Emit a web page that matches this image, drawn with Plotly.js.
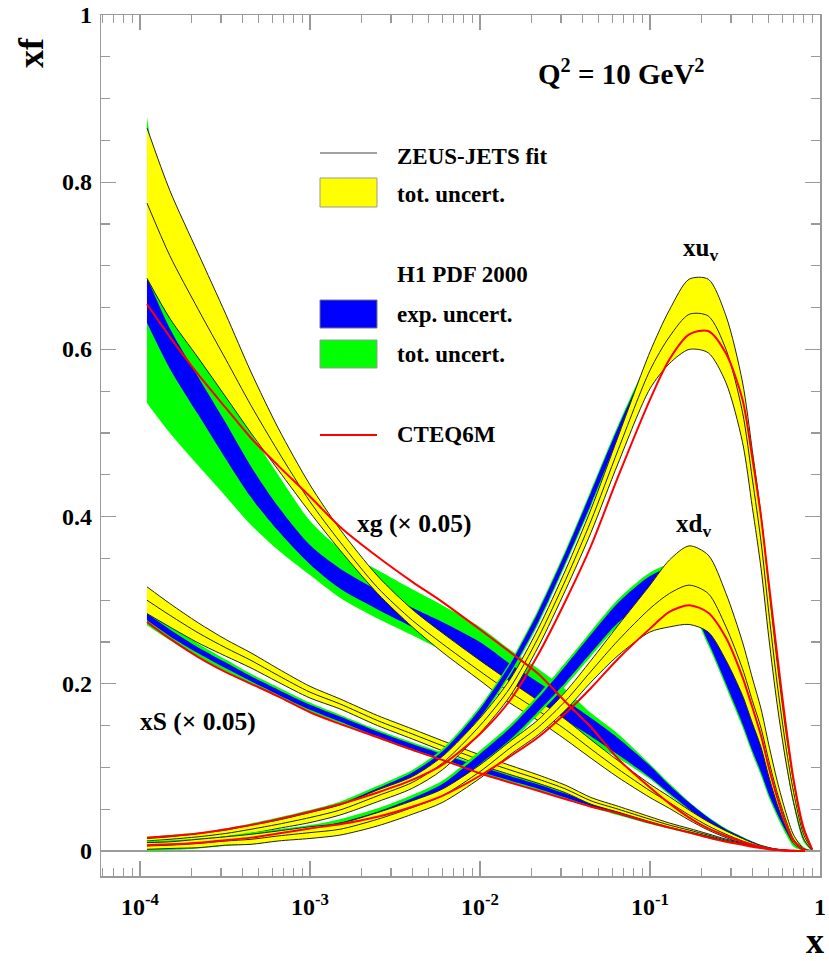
<!DOCTYPE html>
<html>
<head>
<meta charset="utf-8">
<script src="https://cdn.plot.ly/plotly-3.0.1.min.js"></script>
<style>html,body{margin:0;padding:0;background:#fff;}#chart{width:829px;height:961px;}</style>
</head>
<body>
<div id="chart"></div>
<script>
// ---------------- data ----------------
const xGrid = [1.1e-4,1.5e-4,2.2e-4,3.2e-4,4.5e-4,6.5e-4,1e-3,1.5e-3,2.5e-3,4e-3,6e-3,1e-2,1.5e-2,2.2e-2,3.2e-2,4.5e-2,6.5e-2,0.1,0.13,0.17,0.22,0.28,0.35,0.4,0.45,0.5,0.56,0.63,0.7,0.8,0.9];

// xg (x 0.05)
const xgZeusC  = [.775,.712,.648,.588,.533,.478,.418,.370,.315,.276,.248,.215,.190,.168,.145,.122,.098,.072,.058,.043,.030,.020,.012,.008,.005,.003,.0015,.0006,.0002,0,0];
const xgZeusUp = [.865,.790,.715,.642,.573,.506,.438,.385,.329,.289,.261,.228,.203,.180,.157,.133,.108,.080,.065,.049,.035,.024,.015,.010,.0065,.004,.002,.0009,.0003,0,0];
const xgZeusLo = [.685,.637,.590,.543,.500,.456,.405,.360,.308,.268,.238,.204,.177,.156,.133,.111,.088,.064,.051,.037,.025,.016,.009,.006,.0035,.002,.001,.0003,.0001,0,0];
const xgH1ExpUp = [.686,.625,.567,.512,.460,.412,.366,.338,.312,.291,.274,.250,.224,.202,.180,.159,.135,.102,.079,.058,.040,.026,.0165,.011,.007,.0045,.0023,.001,.0004,0,0];
const xgH1ExpLo = [.632,.577,.522,.469,.423,.383,.343,.314,.289,.268,.250,.226,.200,.178,.156,.137,.115,.088,.069,.050,.034,.022,.0135,.009,.006,.0035,.0017,.0006,.0002,0,0];
const xgH1TotUp = [.878,.720,.620,.550,.500,.450,.395,.362,.336,.313,.294,.268,.241,.218,.193,.165,.140,.104,.081,.059,.041,.027,.017,.0115,.0075,.0047,.0025,.001,.0004,0,0];
const xgH1TotLo = [.536,.500,.461,.424,.390,.360,.330,.303,.278,.258,.240,.216,.190,.168,.148,.130,.111,.086,.067,.049,.033,.021,.013,.0085,.0055,.0033,.0015,.0005,.0001,0,0];
const xgCteq    = [.654,.615,.570,.530,.494,.461,.424,.388,.352,.322,.298,.265,.238,.212,.178,.148,.110,.076,.057,.040,.027,.018,.011,.0075,.005,.003,.0015,.0006,.0002,0,0];

// xS (x 0.05)
const xsZeusC  = [.300,.282,.261,.243,.228,.210,.190,.176,.156,.140,.126,.109,.097,.086,.074,.060,.050,.038,.031,.025,.019,.013,.009,.0065,.0045,.003,.0018,.0009,.0004,.0001,0];
const xsZeusUp = [.316,.296,.273,.253,.237,.218,.197,.182,.162,.146,.132,.115,.1025,.091,.0785,.064,.0535,.041,.0335,.027,.0205,.0142,.010,.0073,.0051,.0035,.0022,.0011,.0005,.0001,0];
const xsZeusLo = [.284,.268,.249,.233,.219,.202,.183,.170,.150,.134,.120,.103,.0915,.081,.0695,.056,.0465,.035,.0285,.023,.0175,.0118,.008,.0057,.0039,.0025,.0014,.0007,.0003,.0001,0];
const xsH1ExpUp = [.284,.265,.2435,.2255,.209,.193,.175,.161,.143,.128,.116,.101,.0898,.0796,.0684,.0582,.048,.0368,.0305,.0242,.018,.0128,.0091,.0065,.0047,.0031,.0019,.0009,.0003,.0001,0];
const xsH1ExpLo = [.276,.257,.2365,.2185,.203,.187,.169,.155,.137,.122,.110,.095,.0842,.0744,.0636,.0538,.044,.0332,.0275,.0218,.016,.0112,.0079,.0055,.0039,.0025,.0015,.0007,.0003,.0001,0];
const xsH1TotUp = [.290,.270,.248,.229,.212,.196,.1775,.163,.145,.130,.1178,.1026,.0914,.0812,.070,.0596,.0492,.0378,.0314,.025,.0186,.0132,.0094,.0067,.0048,.0032,.002,.001,.0004,.0001,0];
const xsH1TotLo = [.270,.252,.232,.215,.200,.184,.1665,.153,.135,.120,.1082,.0934,.0826,.0728,.062,.0524,.0428,.0322,.0266,.021,.0154,.0108,.0076,.0053,.0038,.0024,.0014,.0006,.0002,.0001,0];
const xsCteq    = [.274,.254,.232,.214,.200,.185,.166,.152,.136,.121,.109,.093,.082,.072,.062,.053,.045,.034,.028,.022,.016,.011,.0075,.005,.0035,.0022,.0012,.0005,.0002,0,0];

// xu_v
const xuZeusC  = [.012,.014,.017,.021,.026,.032,.040,.049,.066,.082,.105,.150,.195,.255,.325,.395,.480,.575,.615,.642,.640,.600,.525,.445,.370,.285,.200,.125,.070,.020,.001];
const xuZeusUp = [.015,.017,.021,.025,.031,.037,.046,.055,.073,.089,.113,.159,.205,.266,.337,.409,.496,.597,.647,.684,.684,.640,.561,.479,.402,.315,.225,.143,.082,.025,.002];
const xuZeusLo = [.009,.011,.013,.017,.021,.027,.034,.043,.059,.075,.097,.141,.185,.244,.313,.381,.464,.553,.583,.600,.596,.560,.489,.411,.338,.255,.175,.107,.058,.015,0];
const xuH1ExpUp = [.014,.016,.019,.024,.030,.037,.046,.056,.075,.094,.119,.170,.223,.286,.358,.429,.507,.588,.624,.648,.645,.600,.520,.440,.365,.279,.196,.122,.067,.018,.001];
const xuH1ExpLo = [.010,.012,.015,.020,.024,.031,.040,.050,.067,.086,.111,.160,.213,.274,.346,.415,.493,.572,.606,.628,.625,.580,.500,.420,.345,.261,.180,.108,.057,.014,.001];
const xuH1TotUp = [.017,.019,.022,.027,.033,.040,.049,.059,.078,.097,.122,.173,.226,.289,.361,.432,.510,.591,.627,.651,.648,.603,.523,.443,.368,.282,.199,.125,.070,.021,.002];
const xuH1TotLo = [.007,.009,.012,.017,.021,.028,.037,.047,.064,.083,.108,.157,.210,.271,.343,.412,.490,.569,.603,.625,.622,.577,.497,.417,.342,.258,.177,.105,.054,.011,0];
const xuCteq    = [.016,.018,.021,.026,.031,.038,.047,.056,.070,.085,.103,.140,.180,.235,.300,.365,.448,.540,.588,.618,.622,.595,.540,.470,.400,.320,.235,.150,.085,.028,.002];

// xd_v
const xdZeusC  = [.006,.007,.009,.012,.014,.018,.022,.026,.038,.052,.066,.095,.123,.148,.180,.215,.252,.290,.308,.318,.308,.268,.218,.180,.147,.108,.070,.037,.014,.002,0];
const xdZeusUp = [.010,.011,.014,.017,.020,.024,.029,.033,.046,.060,.074,.103,.131,.157,.191,.228,.270,.318,.348,.365,.354,.308,.250,.207,.170,.127,.084,.046,.019,.003,0];
const xdZeusLo = [.002,.003,.004,.007,.008,.012,.015,.019,.030,.044,.058,.087,.115,.139,.169,.202,.234,.262,.268,.271,.262,.228,.186,.153,.124,.089,.056,.028,.009,.001,0];
const xdH1ExpUp = [.008,.009,.011,.014,.018,.022,.027,.034,.047,.063,.080,.116,.147,.183,.222,.259,.297,.329,.338,.330,.294,.244,.192,.156,.126,.096,.065,.036,.015,.003,0];
const xdH1ExpLo = [.004,.005,.007,.010,.012,.016,.021,.026,.039,.053,.070,.104,.133,.167,.202,.237,.273,.301,.306,.294,.250,.200,.152,.120,.094,.068,.045,.024,.009,.001,0];
const xdH1TotUp = [.012,.013,.015,.018,.022,.026,.031,.038,.051,.067,.084,.120,.151,.187,.226,.263,.301,.333,.342,.334,.298,.248,.196,.160,.130,.100,.069,.040,.019,.005,0];
const xdH1TotLo = [.000,.001,.003,.006,.008,.012,.017,.022,.035,.049,.066,.100,.129,.163,.198,.233,.269,.297,.302,.290,.246,.196,.148,.116,.090,.064,.041,.020,.005,0,0];
const xdCteq    = [.007,.008,.010,.013,.016,.021,.027,.032,.041,.053,.066,.090,.113,.136,.165,.195,.230,.266,.286,.294,.285,.255,.208,.172,.138,.100,.064,.032,.012,.002,0];

const xTickVals = [1e-4,1e-3,1e-2,1e-1,1];
const xTickText = ['10<sup>-4</sup>','10<sup>-3</sup>','10<sup>-2</sup>','10<sup>-1</sup>','1'];
const yTickVals = [0,0.2,0.4,0.6,0.8,1];
const yTickText = ['0','0.2','0.4','0.6','0.8','1'];

// ---------------- styling ----------------
const YELLOW = '#ffff00', BLUE = '#0000ff', GREEN = '#00ff00', RED = '#ff0000', BLACK = '#222222', FRAME = '#9a9a9a';
const FONT = 'Liberation Serif, Times New Roman, serif';
const SM = 0.8;

function band(lo, up, color) {
  return [
    {x: xGrid, y: lo, type: 'scatter', mode: 'lines', line: {width: 0, shape: 'spline', smoothing: SM}, hoverinfo: 'skip', showlegend: false},
    {x: xGrid, y: up, type: 'scatter', mode: 'lines', fill: 'tonexty', fillcolor: color, line: {width: 0, shape: 'spline', smoothing: SM}, hoverinfo: 'skip', showlegend: false}
  ];
}
function line(y, color, w) {
  return {x: xGrid, y: y, type: 'scatter', mode: 'lines', line: {color: color, width: w, shape: 'spline', smoothing: SM}, hoverinfo: 'skip', showlegend: false};
}
function family(totLo, totUp, expLo, expUp, zLo, zUp, zC) {
  return [].concat(
    band(totLo, totUp, GREEN),
    band(expLo, expUp, BLUE),
    band(zLo, zUp, YELLOW),
    [line(zUp, BLACK, 1), line(zC, BLACK, 1), line(zLo, BLACK, 1)]
  );
}

const traces = [].concat(
  family(xgH1TotLo, xgH1TotUp, xgH1ExpLo, xgH1ExpUp, xgZeusLo, xgZeusUp, xgZeusC),
  family(xsH1TotLo, xsH1TotUp, xsH1ExpLo, xsH1ExpUp, xsZeusLo, xsZeusUp, xsZeusC),
  family(xuH1TotLo, xuH1TotUp, xuH1ExpLo, xuH1ExpUp, xuZeusLo, xuZeusUp, xuZeusC),
  family(xdH1TotLo, xdH1TotUp, xdH1ExpLo, xdH1ExpUp, xdZeusLo, xdZeusUp, xdZeusC),
  [line(xgCteq, RED, 2), line(xsCteq, RED, 2), line(xuCteq, RED, 2), line(xdCteq, RED, 2)]
);

// ---------------- layout ----------------
const W = 829, H = 961, ML = 101, MR = 9, MT = 15, MB = 85;
const PW = W - ML - MR, PH = H - MT - MB;
const px = v => (v - ML) / PW;
const py = v => (H - MB - v) / PH;

const minorX = [];
for (let e = -5; e <= -1; e++) for (let m = 2; m <= 9; m++) minorX.push(m * Math.pow(10, e));

function txt(text, x, y, size, anchor) {
  return {text: text, xref: 'paper', yref: 'paper', x: px(x), y: py(y), xanchor: anchor || 'center', yanchor: 'middle',
          showarrow: false, font: {family: FONT, size: size, color: '#000', weight: 'bold'}};
}

const legendX0 = 320, legendX1 = 377;
const shapes = [
  {type: 'line', xref: 'paper', yref: 'paper', x0: px(legendX0), x1: px(legendX1), y0: py(153), y1: py(153), line: {color: '#444', width: 1}},
  {type: 'rect', xref: 'paper', yref: 'paper', x0: px(legendX0), x1: px(legendX1), y0: py(207), y1: py(178), fillcolor: YELLOW, line: {color: '#999', width: 1}},
  {type: 'rect', xref: 'paper', yref: 'paper', x0: px(legendX0), x1: px(legendX1), y0: py(328), y1: py(300), fillcolor: BLUE, line: {color: '#777', width: 1}},
  {type: 'rect', xref: 'paper', yref: 'paper', x0: px(legendX0), x1: px(legendX1), y0: py(368), y1: py(340), fillcolor: GREEN, line: {color: '#999', width: 1}},
  {type: 'line', xref: 'paper', yref: 'paper', x0: px(legendX0), x1: px(legendX1), y0: py(435), y1: py(435), line: {color: RED, width: 2}}
];

const annotations = [
  txt('ZEUS-JETS fit', 395, 156, 23, 'left'),
  txt('tot. uncert.', 395, 195, 23, 'left'),
  txt('H1 PDF 2000', 395, 275, 23, 'left'),
  txt('exp. uncert.', 395, 314, 23, 'left'),
  txt('tot. uncert.', 395, 354, 23, 'left'),
  txt('CTEQ6M', 395, 434, 23, 'left'),
  txt('Q<sup>2</sup> = 10 GeV<sup>2</sup>', 621, 72, 29),
  txt('xu<sub>v</sub>', 700, 250, 25),
  txt('xd<sub>v</sub>', 693, 525, 25),
  txt('xg (× 0.05)', 414, 523, 25.5),
  txt('xS (× 0.05)', 198, 721, 25.5),
  Object.assign(txt('xf', 31, 53, 36), {textangle: -90}),
  txt('x', 815, 941, 36)
];
// y tick labels, placed just left of the frame
yTickVals.forEach((v, i) => {
  annotations.push({text: yTickText[i], xref: 'paper', yref: 'y', x: px(94), y: v, xanchor: 'right', yanchor: 'middle',
    showarrow: false, font: {family: FONT, size: 24, color: '#000', weight: 'bold'}});
});

const axisCommon = {
  showline: true, linecolor: FRAME, linewidth: 1.5, mirror: 'allticks',
  ticks: 'inside', tickcolor: FRAME, tickwidth: 1.2, ticklen: 15,
  showgrid: false, tickmode: 'array',
  tickfont: {family: FONT, size: 24, color: '#000', weight: 'bold'}
};

const layout = {
  width: W, height: H,
  margin: {l: ML, r: MR, t: MT, b: MB, pad: 0},
  paper_bgcolor: '#fff', plot_bgcolor: '#fff',
  showlegend: false,
  xaxis: Object.assign({}, axisCommon, {
    type: 'log', range: [-4.229, 0.0],
    tickvals: xTickVals, ticktext: xTickText, ticklabelstandoff: 9,
    zeroline: false,
    minor: {tickmode: 'array', tickvals: minorX, ticks: 'inside', ticklen: 8, tickcolor: FRAME, tickwidth: 1.2, showgrid: false}
  }),
  yaxis: Object.assign({}, axisCommon, {
    range: [-0.0299, 1.0],
    tickvals: yTickVals, showticklabels: false,
    zeroline: true, zerolinecolor: FRAME, zerolinewidth: 1.5,
    minor: {tickmode: 'linear', tick0: 0, dtick: 0.05, ticks: 'inside', ticklen: 9, tickcolor: FRAME, tickwidth: 1.2, showgrid: false}
  }),
  shapes: shapes,
  annotations: annotations
};

Plotly.newPlot('chart', traces, layout, {staticPlot: true, displayModeBar: false});
</script>
</body>
</html>
